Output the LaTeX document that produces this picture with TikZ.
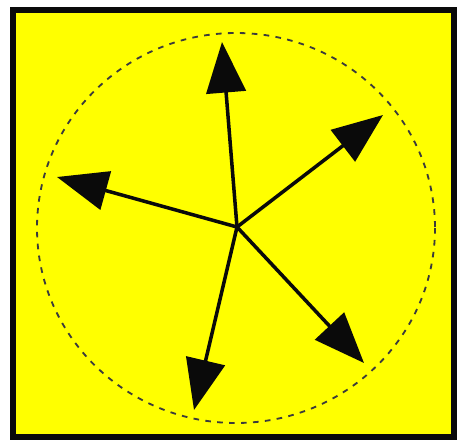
\documentclass[tikz,border=0pt]{standalone}
\usepackage{xcolor}
\usepackage{tikz}
\usetikzlibrary{arrows.meta}
\definecolor{boxfill}{RGB}{255,255,0}
\definecolor{boxframe}{RGB}{10,10,10}
\tikzset{
  frame/.style={draw=boxframe, fill=boxfill, line width=3.8pt},
  rim/.style={draw=boxframe!80, dash pattern=on 4pt off 4.5pt, line width=1.3pt},
  vec/.style={draw=boxframe, line width=2.5pt,
              -{Triangle[length=36pt, width=28pt]}},
}
\begin{document}
\begin{tikzpicture}[x=0.025cm, y=-0.025cm]
\useasboundingbox (0,0) rectangle (459,441);
% square and the dashed circle
\draw[frame] (13,10) rectangle (454,437);
\draw[rim] (236,228) ellipse (199 and 195);
% five vectors from the common origin
\coordinate (o) at (237,227);
\foreach \name/\tx/\ty in {up/222/42, ne/383/115, left/57/177,
                           se/364/363, down/194/410} {
  \coordinate (\name) at (\tx,\ty);
  \draw[vec] (o) -- (\name);
}
\end{tikzpicture}
\end{document}
